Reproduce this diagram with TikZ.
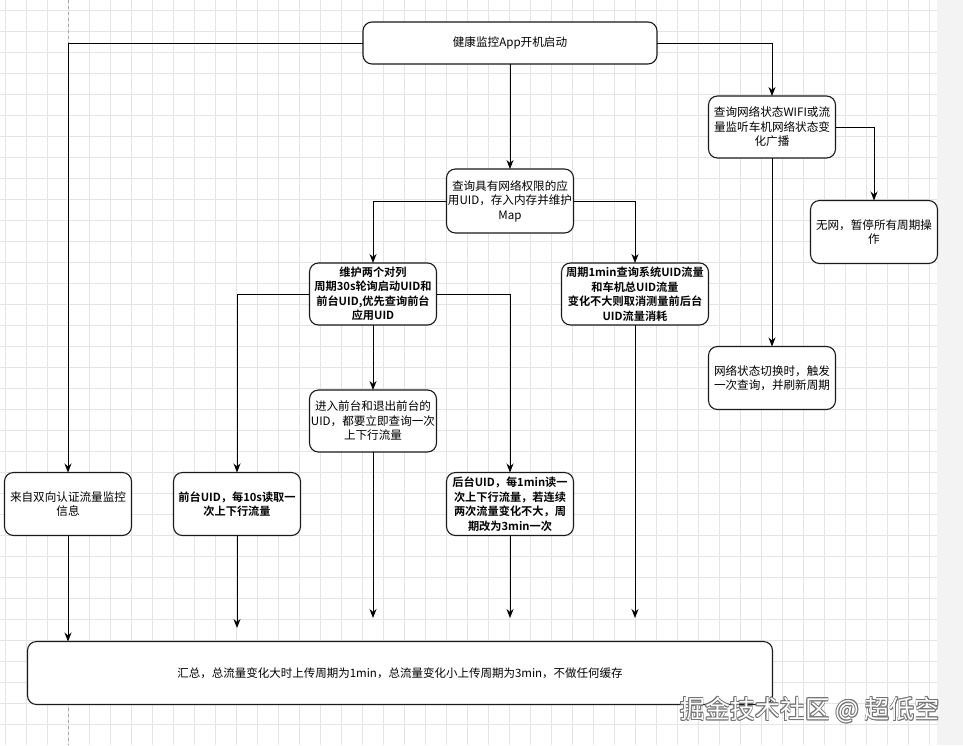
\documentclass[tikz,border=0pt]{standalone}
\usepackage{fontspec}
\setmainfont{Noto Sans CJK SC}[BoldFont={Noto Sans CJK SC Bold}]
\usetikzlibrary{arrows.meta}
\definecolor{gridc}{HTML}{E4E4E4}
\definecolor{stripc}{HTML}{F3F3F3}
\definecolor{edgec}{HTML}{1A1A1A}
\begin{document}
\begin{tikzpicture}[x=1pt,y=-1pt,
  box/.style={draw=edgec, line width=1.1pt, rounded corners=9pt, fill=white,
    align=center, inner sep=1pt, outer sep=0pt,
    font=\fontsize{11.6}{14.5}\selectfont,
    minimum width=127pt, minimum height=63pt},
  boldbox/.style={box, font=\fontsize{11.2}{14.5}\selectfont\bfseries},
  arr/.style={draw=black, line width=1pt, -{Stealth[length=9pt,width=7pt]}},
  wm/.style={font=\fontsize{25}{27}\selectfont, anchor=center}
]
\useasboundingbox (0,0) rectangle (963,745);
% background
\fill[white] (0,0) rectangle (963,745);
\fill[stripc] (937,0) rectangle (963,745);
\foreach \x in {5,26,...,936} \draw[gridc, line width=0.6pt] (\x,0) -- (\x,745);
\foreach \y in {10.5,31.5,...,745} \draw[gridc, line width=0.6pt] (0,\y) -- (937,\y);
\draw[gray!70, dashed, line width=0.8pt] (68,0) -- (68,745);

% nodes
\node[box, minimum width=294pt, minimum height=42pt] (top) at (510,43) {健康监控App开机启动};
\node[box, minimum height=62pt] (net) at (772,127) {查询网络状态WIFI或流\\量监听车机网络状态变\\化广播};
\node[box] (nonet) at (874,232) {无网，暂停所有周期操\\作};
\node[box, minimum height=64pt] (query) at (510,201) {查询具有网络权限的应\\用UID，存入内存并维护\\Map};
\node[boldbox, minimum height=62pt] (maintain) at (373,294) {维护两个对列\\周期30s轮询启动UID和\\前台UID,优先查询前台\\应用UID};
\node[boldbox, minimum width=147pt, minimum height=62pt] (period) at (635,294) {周期1min查询系统UID流量\\和车机总UID流量\\变化不大则取消测量前后台\\UID流量消耗};
\node[box] (switch) at (772,378) {网络状态切换时，触发\\一次查询，并刷新周期};
\node[box, minimum height=62pt] (enter) at (373,421) {进入前台和退出前台的\\UID，都要立即查询一次\\上下行流量};
\node[box] (src) at (68,504) {来自双向认证流量监控\\信息};
\node[boldbox] (front) at (237,504) {前台UID，每10s读取一\\次上下行流量};
\node[boldbox] (back) at (510,504) {后台UID，每1min读一\\次上下行流量，若连续\\两次流量变化不大，周\\期改为3min一次};
\node[box, minimum width=745pt, minimum height=63pt, font=\fontsize{11.5}{14}\selectfont] (sum) at (400,673) {汇总，总流量变化大时上传周期为1min，总流量变化小上传周期为3min，不做任何缓存};

% free ends
\coordinate (e1) at (237,628);
\coordinate (e2) at (373,618);
\coordinate (e3) at (510,618);
\coordinate (e4) at (635,618);

% connectors
\draw[arr] (top.west) -| (src.north);
\draw[arr] (top.east) -| (net.north);
\draw[arr] (top.south) -- (query.north);
\draw[arr] (net.east) -| (nonet.north);
\draw[arr] (net.south) -- (switch.north);
\draw[arr] (query.west) -| (maintain.north);
\draw[arr] (query.east) -| (period.north);
\draw[arr] (maintain.south) -- (enter.north);
\draw[arr] (maintain.west) -| (front.north);
\draw[arr] (maintain.east) -| (back.north);
\draw[arr] (src.south) -- (src.south |- sum.north);
\draw[arr] (front.south) -- (e1);
\draw[arr] (enter.south) -- (e2);
\draw[arr] (back.south) -- (e3);
\draw[arr] (period.south) -- (e4);

% watermark
\foreach \dx/\dy in {0.8/0,-0.8/0,0/0.8,0/-0.8,0.6/0.6,-0.6/0.6,0.6/-0.6,-0.6/-0.6}
  \node[wm, text=black!55] at (810+\dx,710+\dy) {掘金技术社区 @ 超低空};
\node[wm, text=white] (wmk) at (810,710) {掘金技术社区 @ 超低空};
\end{tikzpicture}
\end{document}
